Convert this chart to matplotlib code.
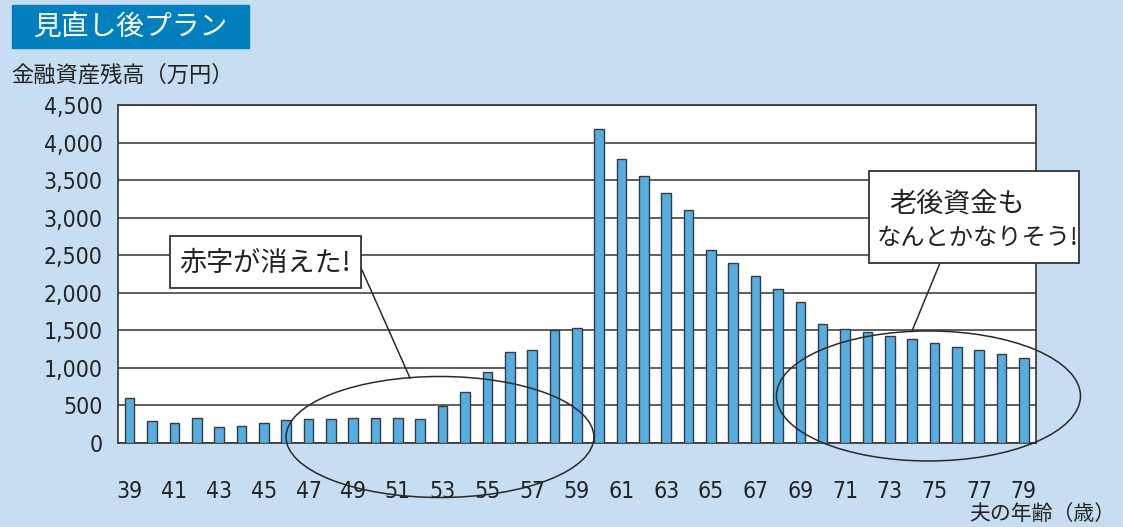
import matplotlib
matplotlib.use("Agg")
import matplotlib.pyplot as plt
from matplotlib.patches import Ellipse, Rectangle

# 夫の年齢と金融資産残高（万円）
ages = list(range(39, 80))
balance = [605, 297, 262, 329, 209, 222, 262, 302, 320, 315,
           337, 329, 329, 315, 489, 683, 945, 1212, 1238, 1505,
           1531, 4180, 3782, 3555, 3330, 3102, 2565, 2395, 2225, 2045,
           1875, 1582, 1520, 1476, 1422, 1385, 1330, 1280, 1232, 1182,
           1125]
yticks = [0, 500, 1000, 1500, 2000, 2500, 3000, 3500, 4000, 4500]
xticks = ages[::2]

jp = ["Noto Sans CJK JP", "DejaVu Sans"]
bg = "#c6ddf2"

fig = plt.figure(figsize=(11.23, 5.27), dpi=100, facecolor=bg)
ax = fig.add_axes([0.1051, 0.1594, 0.8174, 0.6414])
ax.set_facecolor("white")

ax.bar(ages, balance, width=0.43, color="#55aee1", edgecolor="#3a3a3a",
       linewidth=1.0, zorder=3)

ax.set_xlim(38.48, 79.54)
ax.set_ylim(0, 4500)
ax.set_yticks(yticks)
ax.set_yticklabels([f"{v:,}" for v in yticks], family="DejaVu Sans",
                   stretch="condensed", fontsize=16.5, color="#222222")
ax.set_xticks(xticks)
ax.set_xticklabels([str(a) for a in xticks], family="DejaVu Sans",
                   stretch="condensed", fontsize=16.5, color="#222222")
ax.tick_params(axis="y", length=0, pad=11)
ax.tick_params(axis="x", length=0, pad=27)
ax.grid(axis="y", color="#444444", linewidth=1.2, zorder=1)
for s in ax.spines.values():
    s.set_color("#333333")
    s.set_linewidth(1.2)

def px(x, y):
    return x / 1123, 1 - y / 527

# 見出し
fig.patches.append(Rectangle(px(12, 48), 237 / 1123, 43 / 527,
                             transform=fig.transFigure, color="#0180bd"))
fig.text(*px(131, 27), "見直し後プラン", family=jp, fontsize=20,
         color="white", ha="center", va="center")
fig.text(*px(11, 75), "金融資産残高（万円）", family=jp,
         fontsize=16, color="#222222", ha="left", va="center")
fig.text(*px(1115, 514), "夫の年齢（歳）", family=jp,
         fontsize=15, color="#222222", ha="right", va="center")

# 囲みと吹き出し
for cx, cy, w, h in [(52.88, 80, 13.77, 1611), (74.73, 626, 13.6, 1731)]:
    ax.add_patch(Ellipse((cx, cy), w, h, fill=False, edgecolor="#2a2a2a",
                         linewidth=1.1, clip_on=False, zorder=5))

fig.add_artist(plt.Line2D(*zip(px(362, 270), px(410, 378)),
                          color="#2a2a2a", linewidth=1.1))
fig.add_artist(plt.Line2D(*zip(px(940, 263), px(912, 331)),
                          color="#2a2a2a", linewidth=1.1))

fig.patches.append(Rectangle(px(170, 288), 191 / 1123, 52 / 527,
                             transform=fig.transFigure, facecolor="white",
                             edgecolor="#333333", linewidth=1.3, zorder=6))
fig.text(*px(265, 263), "赤字が消えた!", family=jp, fontsize=19.5,
         color="#222222", ha="center", va="center", zorder=7)

fig.patches.append(Rectangle(px(869, 263), 210 / 1123, 92 / 527,
                             transform=fig.transFigure, facecolor="white",
                             edgecolor="#333333", linewidth=1.3, zorder=6))
fig.text(*px(889, 204), "老後資金も", family=jp, fontsize=19.5,
         color="#222222", ha="left", va="center", zorder=7)
fig.text(*px(877, 238), "なんとかなりそう!", family=jp, fontsize=17.5,
         color="#222222", ha="left", va="center", zorder=7)

fig.savefig("out.png", dpi=100, facecolor=bg)
